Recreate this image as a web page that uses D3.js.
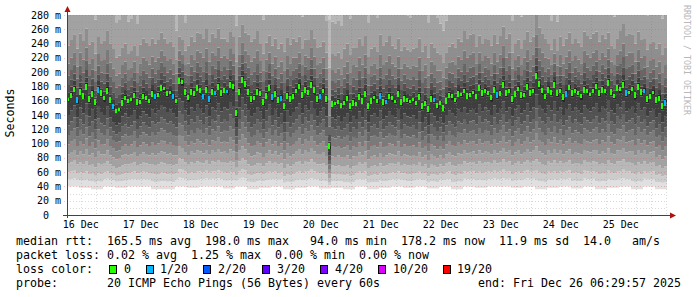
<!DOCTYPE html>
<html>
<head>
<meta charset="utf-8">
<script src="https://cdn.jsdelivr.net/npm/d3@7"></script>
<style>
  body { margin: 0; background: #fff; }
  text { font-family: "DejaVu Sans Mono", monospace; white-space: pre; }
</style>
</head>
<body>
<svg id="chart" width="697" height="297"></svg>
<script>
// median rtt (ms), one value per 72 min bin, 16 Dec 06:30 -> 26 Dec 06:30
const median = [
  162,170,178,158,175,165,182,160,172,155,178,168,162,176,158,
  150,145,148,160,165,158,162,170,155,160,168,163,158,172,165,170,180,176,168,172,
  165,158,190,185,170,162,175,168,180,172,165,178,160,175,170,182,168,176,172,185,
  178,140,175,192,180,170,160,165,175,168,155,170,180,162,172,158,165,150,170,160,
  168,175,182,165,178,170,185,172,160,168,175,160,94,158,155,160,152,158,165,150,
  160,155,168,158,172,150,162,165,158,170,155,160,168,162,158,172,155,165,160,158,
  162,155,168,150,158,145,165,160,152,158,148,162,170,165,160,172,168,175,165,170,
  172,165,180,168,175,170,162,178,165,172,185,168,175,160,172,178,165,170,182,168,
  175,198,180,172,165,178,170,185,168,175,162,172,180,168,175,170,165,178,172,168,
  175,182,168,178,172,188,170,165,180,175,185,168,172,178,165,182,170,175,160,168,172,158,165,150,160
];
// fastest ping per 12px column group (ms)
const lowEdge = [
  40,38,36,40,38,40,40,36,36,40,38,40,40,37,40,36,38,40,36,38,40,37,38,36,40,
  36,38,40,38,40,37,40,36,40,38,40,40,38,40,36,38,40,37,40,36,38,40,36,40,36
];
// how far the slow pings spread above the median
const spread = [
  1.0,1.05,0.95,1.1,1.0,0.9,1.05,1.0,0.95,0.8,1.0,1.1,
  1.05,0.95,1.0,1.1,0.95,1.0,1.05,0.9,1.0,0.9,0.9,1.0,
  1.05,0.95,1.1,1.0,0.95,1.05,1.0,0.88,1.0,1.1,0.95,1.0,
  1.05,0.9,1.0,1.1,0.82,1.0,0.95,1.05,1.0,0.9,1.1,1.0,
  0.95,1.0
];
// bins where 1 of 20 pings was lost
const lossBins = [3,10,15,29,35,45,47,49,53,68,71,84,104,106,122,143,166,186,192,199];

// ping distribution shape: lower pings as fraction low->median, upper as ms above median
const lowerFrac = [0, 0.08, 0.16, 0.26, 0.37, 0.48, 0.59, 0.70, 0.82, 0.97];
const upperOffset = [3, 10, 20, 33, 50, 75, 125, 200, 300, 450];
const shades = ['#e0e0e0','#cccccc','#b8b8b8','#a2a2a2','#8e8e8e','#7a7a7a','#666666','#525252','#3e3e3e'];
const centerShade = '#262626';

const yTicks = [0,20,40,60,80,100,120,140,160,180,200,220,240,260,280];
const dayLabels = ['16 Dec','17 Dec','18 Dec','19 Dec','20 Dec','21 Dec','22 Dec','23 Dec','24 Dec','25 Dec'];
const lossLabels = ['0','1/20','2/20','3/20','4/20','10/20','19/20'];
const lossColors = ['#26ff00','#00b8ff','#0059ff','#5e00ff','#7e00ff','#dd00ff','#ff0000'];

const plot = { left: 67, right: 667, top: 15, bottom: 215 };
const endTime = new Date(Date.UTC(2025, 11, 26, 6, 29, 57));
const startTime = new Date(+endTime - 10 * 864e5);
const binMs = (endTime - startTime) / median.length;

const $svg = d3.select('#chart');

const x = d3.scaleUtc().domain([startTime, endTime]).range([plot.left, plot.right]);
const y = d3.scaleLinear().domain([0, 280]).range([plot.bottom, plot.top]);

const bins = median.map((m, i) => {
  const low = lowEdge[Math.floor(i * lowEdge.length / median.length)];
  const s = spread[Math.floor(i * spread.length / median.length)];
  const pings = lowerFrac.map(f => low + (m - low) * f)
    .concat(upperOffset.map(o => m + o * s));
  const prev = i > 0 ? median[i - 1] : m;
  return { t: new Date(+startTime + i * binMs), m, prev, pings, loss: lossBins.includes(i) ? 1 : 0 };
});
const stepData = bins.concat([{ ...bins[bins.length - 1], t: endTime }]);

$svg.append('rect').attr('width', 697).attr('height', 297).attr('fill', '#fff');

$svg.append('clipPath').attr('id', 'plot-clip')
  .append('rect').attr('x', plot.left).attr('y', plot.top)
  .attr('width', plot.right - plot.left).attr('height', plot.bottom - plot.top);

// smoke
const $smoke = $svg.append('g').attr('clip-path', 'url(#plot-clip)');
d3.range(19).forEach(k => {
  const fill = k < 9 ? shades[k] : k === 9 ? centerShade : shades[18 - k];
  const area = d3.area()
    .x(d => x(d.t))
    .y0(d => y(d.pings[k]))
    .y1(d => y(d.pings[k + 1]))
    .curve(d3.curveStepAfter);
  $smoke.append('path').datum(stepData).attr('d', area).attr('fill', fill);
});

// grid
const minorColor = 'rgba(150,150,150,0.35)';
const majorColor = 'rgba(230,60,60,0.28)';
const $grid = $svg.append('g').attr('shape-rendering', 'crispEdges');
const minorY = d3.range(10, 281, 20);
$grid.selectAll('.minor-y').data(minorY).enter().append('line')
  .attr('x1', plot.left).attr('x2', plot.right)
  .attr('y1', d => Math.round(y(d)) + 0.5).attr('y2', d => Math.round(y(d)) + 0.5)
  .attr('stroke', minorColor).attr('stroke-dasharray', '1,2');
$grid.selectAll('.major-y').data(yTicks.slice(1)).enter().append('line')
  .attr('x1', plot.left - 3).attr('x2', plot.right)
  .attr('y1', d => Math.round(y(d)) + 0.5).attr('y2', d => Math.round(y(d)) + 0.5)
  .attr('stroke', majorColor).attr('stroke-dasharray', '1,2');

const sixHours = d3.utcHour.every(6).range(startTime, endTime).filter(d => d.getUTCHours() !== 0);
$grid.selectAll('.minor-x').data(sixHours).enter().append('line')
  .attr('x1', d => Math.round(x(d)) + 0.5).attr('x2', d => Math.round(x(d)) + 0.5)
  .attr('y1', plot.top).attr('y2', plot.bottom)
  .attr('stroke', minorColor).attr('stroke-dasharray', '1,2');
const midnights = d3.utcDay.range(startTime, endTime);
$grid.selectAll('.major-x').data(midnights).enter().append('line')
  .attr('x1', d => Math.round(x(d)) + 0.5).attr('x2', d => Math.round(x(d)) + 0.5)
  .attr('y1', plot.top).attr('y2', plot.bottom + 3)
  .attr('stroke', majorColor).attr('stroke-dasharray', '1,2');

// median marks coloured by loss; short vertical dash toward the previous bin
const reach = d => Math.max(-4, Math.min(4, y((d.m + d.prev) / 2) - y(d.m)));
$svg.append('g').attr('clip-path', 'url(#plot-clip)')
  .selectAll('rect').data(bins).enter().append('rect')
  .attr('x', d => Math.round(x(d.t)))
  .attr('y', d => Math.round(y(d.m) + Math.min(0, reach(d))) - 1)
  .attr('width', 2)
  .attr('height', d => Math.max(3, Math.round(Math.abs(reach(d))) + 2))
  .attr('fill', d => lossColors[d.loss]);

// axes
const axisColor = '#2c4d43';
const arrowColor = '#b01010';
$svg.append('line').attr('x1', plot.left + 0.5).attr('x2', plot.left + 0.5)
  .attr('y1', plot.bottom + 3).attr('y2', plot.top - 4)
  .attr('stroke', axisColor);
$svg.append('line').attr('x1', plot.left - 4).attr('x2', plot.right + 3)
  .attr('y1', plot.bottom + 0.5).attr('y2', plot.bottom + 0.5)
  .attr('stroke', axisColor);
$svg.append('path')
  .attr('d', `M${plot.left - 2.5},${plot.top - 3} L${plot.left + 3.5},${plot.top - 3} L${plot.left + 0.5},${plot.top - 9} Z`)
  .attr('fill', arrowColor);
$svg.append('path')
  .attr('d', `M${plot.right + 3},${plot.bottom - 2.5} L${plot.right + 3},${plot.bottom + 3.5} L${plot.right + 9},${plot.bottom + 0.5} Z`)
  .attr('fill', arrowColor);

// y labels
$svg.append('g').selectAll('text').data(yTicks).enter().append('text')
  .attr('x', d => d === 0 ? 49 : 61)
  .attr('y', d => y(d) + 3.5)
  .attr('text-anchor', 'end')
  .attr('font-size', '10px')
  .attr('fill', '#000')
  .text(d => d === 0 ? '0' : `${d} m`);

// x labels at noon
const noons = d3.utcDay.range(d3.utcDay.floor(startTime), endTime)
  .map(d => d3.utcHour.offset(d, 12));
$svg.append('g').selectAll('text').data(noons).enter().append('text')
  .attr('x', d => x(d))
  .attr('y', 228)
  .attr('text-anchor', 'middle')
  .attr('font-size', '10px')
  .attr('fill', '#000')
  .text((d, i) => dayLabels[i]);

// axis title and watermark
$svg.append('text')
  .attr('transform', 'translate(14,113) rotate(-90)')
  .attr('text-anchor', 'middle')
  .attr('font-size', '11.6px')
  .attr('fill', '#000')
  .text('Seconds');

$svg.append('text')
  .attr('transform', 'translate(684,5) rotate(90)')
  .attr('font-size', '8.3px')
  .attr('fill', '#b8b8b8')
  .text('RRDTOOL / TOBI OETIKER');

// legend
const legendFont = '11.63px';
const lines = [
  'median rtt:  165.5 ms avg  198.0 ms max   94.0 ms min  178.2 ms now  11.9 ms sd  14.0   am/s',
  'packet loss: 0.02 % avg  1.25 % max  0.00 % min  0.00 % now',
  'loss color:',
  'probe:       20 ICMP Echo Pings (56 Bytes) every 60s'
];
$svg.append('g').selectAll('text').data(lines).enter().append('text')
  .attr('x', 16)
  .attr('y', (d, i) => 245 + i * 14)
  .attr('xml:space', 'preserve')
  .attr('font-size', legendFont)
  .attr('fill', '#000')
  .text(d => d);

$svg.append('text')
  .attr('x', 478).attr('y', 287)
  .attr('font-size', legendFont)
  .attr('fill', '#000')
  .text('end: Fri Dec 26 06:29:57 2025');

const boxX = [109, 146, 203, 262, 320, 378, 443];
const labelX = [124, 160, 218, 277, 335, 393, 457];
const $loss = $svg.append('g').selectAll('g').data(lossLabels).enter().append('g');
$loss.append('rect')
  .attr('x', (d, i) => boxX[i] + 0.5).attr('y', 265.5)
  .attr('width', 7).attr('height', 8)
  .attr('fill', (d, i) => lossColors[i])
  .attr('stroke', '#000');
$loss.append('text')
  .attr('x', (d, i) => labelX[i]).attr('y', 273)
  .attr('font-size', legendFont)
  .attr('fill', '#000')
  .text(d => d);
</script>
</body>
</html>
